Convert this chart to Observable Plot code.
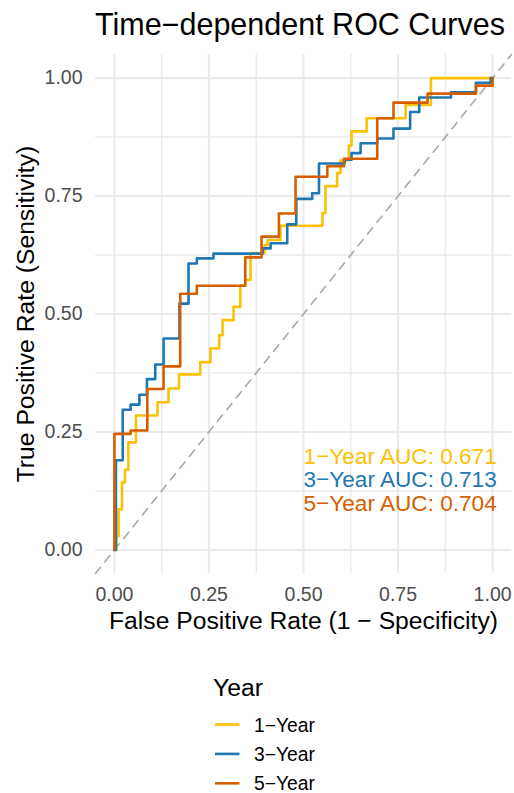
<!DOCTYPE html>
<html><head><meta charset="utf-8">
<script src="https://cdn.jsdelivr.net/npm/d3@7"></script>
<script src="https://cdn.jsdelivr.net/npm/@observablehq/plot@0.6"></script>
<style>
body{margin:0;background:#fff;}
#wrap{position:relative;width:514px;height:793px;font-family:"Liberation Sans",Arial,Helvetica,sans-serif;background:#fff;}
#title{position:absolute;left:95px;top:9.4px;font-size:30.5px;line-height:30.5px;color:#000;white-space:nowrap;}
#chart{position:absolute;left:0;top:44px;}
#legend{position:absolute;left:0;top:644px;}
</style></head><body>
<div id="wrap"><div id="title">Time−dependent ROC Curves</div><div id="chart"></div><div id="legend"></div></div>
<script>
const years = ["1−Year", "3−Year", "5−Year"];
const colors = ["#FCC105", "#1F77B4", "#D55E00"];

const fpr1 = [0,0.005,0.011,0.020,0.028,0.037,0.057,0.114,0.143,0.171,0.227,0.254,0.277,0.286,0.315,0.333,0.346,0.360,0.397,0.405,0.439,0.550,0.558,0.589,0.598,0.620,0.627,0.667,0.770,0.837,1.000];
const tpr1 = [0,0.029,0.086,0.143,0.170,0.228,0.285,0.313,0.342,0.372,0.398,0.427,0.455,0.487,0.515,0.561,0.572,0.629,0.646,0.657,0.687,0.714,0.771,0.799,0.826,0.857,0.887,0.915,0.943,1.000,1.000];

const fpr3 = [0,0.004,0.022,0.043,0.066,0.086,0.108,0.130,0.172,0.196,0.218,0.262,0.392,0.413,0.457,0.481,0.523,0.541,0.609,0.627,0.651,0.695,0.738,0.782,0.806,0.890,0.956,0.995,1.000];
const tpr3 = [0,0.190,0.297,0.308,0.329,0.362,0.393,0.448,0.522,0.607,0.618,0.628,0.639,0.650,0.690,0.744,0.756,0.819,0.827,0.841,0.862,0.872,0.893,0.928,0.959,0.970,0.990,1.000,1.000];

const fpr5 = [0,0,0.043,0.087,0.130,0.174,0.218,0.346,0.389,0.435,0.479,0.563,0.607,0.695,0.738,0.828,0.956,1.000];
const tpr5 = [0,0.246,0.253,0.341,0.389,0.543,0.560,0.620,0.664,0.713,0.791,0.813,0.829,0.915,0.948,0.967,0.984,1.000];

const aucValues = [0.671, 0.713, 0.704];
const aucY = [0.2, 0.15, 0.1];
const aucX = 0.5;

const majorTicks = [0, 0.25, 0.5, 0.75, 1];
const minorTicks = [0.125, 0.375, 0.625, 0.875];
const domain = [-0.05, 1.05];

const series = [[fpr1, tpr1], [fpr3, tpr3], [fpr5, tpr5]];
const rows = [];
series.forEach(([f, t], k) => f.forEach((v, i) => rows.push({year: years[k], fpr: v, tpr: t[i]})));

const font = '"Liberation Sans",Arial,Helvetica,sans-serif';
const grid = "#EBEBEB";

const chart = Plot.plot({
  width: 514, height: 600,
  marginTop: 10, marginRight: 3, marginBottom: 71, marginLeft: 95,
  style: {fontFamily: font, background: "white", overflow: "visible"},
  x: {domain},
  y: {domain},
  color: {domain: years, range: colors},
  marks: [
    Plot.gridX(minorTicks, {stroke: grid, strokeOpacity: 1, strokeWidth: 1.5}),
    Plot.gridY(minorTicks, {stroke: grid, strokeOpacity: 1, strokeWidth: 1.5}),
    Plot.gridX(majorTicks, {stroke: grid, strokeOpacity: 1, strokeWidth: 2.1}),
    Plot.gridY(majorTicks, {stroke: grid, strokeOpacity: 1, strokeWidth: 2.1}),
    Plot.axisX(majorTicks, {tickSize: 0, tickPadding: 14, tickFormat: d3.format(".2f"), fontSize: 19.5, color: "#4D4D4D", label: null}),
    Plot.axisY(majorTicks, {tickSize: 0, tickPadding: 13, tickFormat: d3.format(".2f"), fontSize: 19.5, color: "#4D4D4D", label: null}),
    Plot.line(domain, {x: d => d, y: d => d, stroke: "#A8A8A8", strokeWidth: 1.6, strokeDasharray: "8,7"}),
    Plot.line(rows, {x: "fpr", y: "tpr", z: "year", stroke: "year", curve: "step-after", strokeWidth: 2.6}),
    Plot.text(aucValues, {x: () => aucX, y: (d, i) => aucY[i], text: (d, i) => `${years[i]} AUC: ${d.toFixed(3)}`,
      fill: (d, i) => years[i], textAnchor: "start", lineAnchor: "middle", dy: 1, fontSize: 22.6}),
    Plot.text(["False Positive Rate (1 − Specificity)"], {frameAnchor: "bottom", textAnchor: "middle", lineAnchor: "bottom", dy: 55.6, fontSize: 24.7, fill: "black"}),
    Plot.text(["True Positive Rate (Sensitivity)"], {frameAnchor: "left", textAnchor: "middle", rotate: -90, lineAnchor: "bottom", dx: -62, fontSize: 24.7, fill: "black"})
  ]
});
document.getElementById("chart").appendChild(chart);

// legend
const lg = d3.select("#legend").append("svg").attr("width", 514).attr("height", 149)
  .style("font-family", font);
lg.append("text").attr("x", 213).attr("y", 52).attr("font-size", 24.7).attr("fill", "black").text("Year");
years.forEach((yr, i) => {
  const cy = 80.5 + i * 29.4;
  lg.append("line").attr("x1", 215).attr("x2", 239.5).attr("y1", cy).attr("y2", cy)
    .attr("stroke", colors[i]).attr("stroke-width", 2.6);
  lg.append("text").attr("x", 254).attr("y", cy + 7).attr("font-size", 19.3).attr("fill", "black").text(yr);
});
</script>
</body></html>
